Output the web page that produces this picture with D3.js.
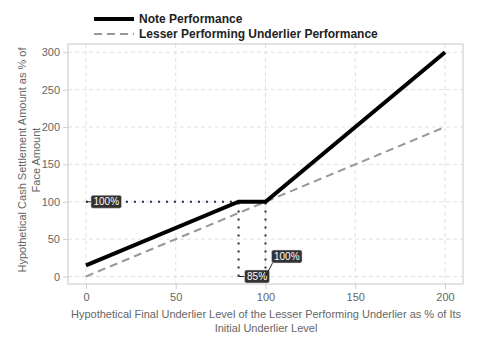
<!DOCTYPE html>
<html><head><meta charset="utf-8">
<script src="https://cdn.jsdelivr.net/npm/d3@7"></script>
<style>body{margin:0;background:#fff;}svg{display:block;font-family:"Liberation Sans",Arial,sans-serif;}</style>
</head><body><svg id="c" width="480" height="360"></svg>
<script>
const levels = [0, 85, 100, 200];
const noteValues = [15, 100, 100, 300];
const underlierLevels = [0, 200];
const underlierValues = [0, 200];
const xTicks = [0, 50, 100, 150, 200];
const yTicks = [0, 50, 100, 150, 200, 250, 300];
const seriesNames = ["Note Performance", "Lesser Performing Underlier Performance"];
const annotations = [
  {x: 0, y: 100, text: "100%", dx: 5, dy: 0},
  {x: 85, y: 0, text: "85%", dx: 6, dy: 0},
  {x: 100, y: 0, text: "100%", dx: 6, dy: -20}
];

const svg = d3.select("#c");
const L = 68, R = 463, T = 44, B = 284;
const x = d3.scaleLinear().domain([-10, 210]).range([L, R]);
const y = d3.scaleLinear().domain([-10, 311]).range([B, T]);

// grid
const g = svg.append("g");
g.selectAll(".gx").data(xTicks).enter().append("line")
  .attr("x1", d => x(d)).attr("x2", d => x(d)).attr("y1", T).attr("y2", B)
  .attr("stroke", "#e0e0e0").attr("stroke-dasharray", "4,3");
g.selectAll(".gy").data(yTicks).enter().append("line")
  .attr("y1", d => y(d)).attr("y2", d => y(d)).attr("x1", L).attr("x2", R)
  .attr("stroke", "#e0e0e0").attr("stroke-dasharray", "4,3");
svg.append("rect").attr("x", L).attr("y", T).attr("width", R - L).attr("height", B - T)
  .attr("fill", "none").attr("stroke", "#c8c8c8");

// axes
const xa = svg.append("g").attr("transform", `translate(0,${B})`)
  .call(d3.axisBottom(x).tickValues(xTicks).tickSize(5).tickPadding(4));
const ya = svg.append("g").attr("transform", `translate(${L},0)`)
  .call(d3.axisLeft(y).tickValues(yTicks).tickSize(5).tickPadding(3));
[xa, ya].forEach(a => {
  a.select(".domain").remove();
  a.selectAll("line").attr("stroke", "#c8d0dc");
  a.selectAll("text").attr("fill", "#666").style("font-size", "11px").style("font-family", "'Liberation Sans',Arial,sans-serif");
});

// axis titles
const xt = svg.append("text").attr("text-anchor", "middle").attr("fill", "#666").style("font-size", "11px");
xt.append("tspan").attr("x", 266).attr("y", 318).text("Hypothetical Final Underlier Level of the Lesser Performing Underlier as % of Its");
xt.append("tspan").attr("x", 266).attr("y", 332).text("Initial Underlier Level");
const yt = svg.append("text").attr("text-anchor", "middle").attr("fill", "#666").style("font-size", "11px")
  .attr("transform", "translate(26,160) rotate(-90)");
yt.append("tspan").attr("x", 0).attr("y", 0).text("Hypothetical Cash Settlement Amount as % of");
yt.append("tspan").attr("x", 0).attr("y", 14).text("Face Amount");

// dotted reference lines
const dotColor = "#1f2d4d";
const dots = [
  [[0, 100], [85, 100]],
  [[85, 0], [85, 100]],
  [[100, 0], [100, 100]]
];
const line = d3.line().x(d => x(d[0])).y(d => y(d[1]));
dots.forEach(seg => {
  svg.append("path").attr("d", line(seg)).attr("fill", "none")
    .attr("stroke", dotColor).attr("stroke-width", 2).attr("stroke-dasharray", "2,6");
});

// underlier
svg.append("path").attr("d", line(underlierLevels.map((v, i) => [v, underlierValues[i]])))
  .attr("fill", "none").attr("stroke", "#999").attr("stroke-width", 2).attr("stroke-dasharray", "8,5");
// note
svg.append("path").attr("d", line(levels.map((v, i) => [v, noteValues[i]])))
  .attr("fill", "none").attr("stroke", "#000").attr("stroke-width", 4);

// annotations
annotations.forEach(a => {
  const px = x(a.x), py = y(a.y);
  const ag = svg.append("g");
  const lineG = ag.append("g"), rect = ag.append("rect");
  const t = ag.append("text").attr("fill", "#fff").style("font-size", "10px").text(a.text);
  const w = t.node().getComputedTextLength() + 5, h = 13;
  const bx = px + a.dx, by = py + a.dy - h / 2;
  lineG.append("line").attr("x1", px).attr("y1", py)
    .attr("x2", a.dy ? bx + 1 : bx).attr("y2", a.dy ? by + h : py).attr("stroke", "#222").attr("stroke-width", 1);
  rect.attr("x", bx).attr("y", by).attr("width", w).attr("height", h)
    .attr("rx", 2).attr("fill", "#333").attr("stroke", "#ddd").attr("stroke-width", 0.5);
  t.attr("x", bx + 2.5).attr("y", by + 10);
});

// legend
const leg = svg.append("g");
leg.append("line").attr("x1", 94).attr("x2", 134).attr("y1", 19).attr("y2", 19).attr("stroke", "#000").attr("stroke-width", 4);
leg.append("line").attr("x1", 94).attr("x2", 134).attr("y1", 34).attr("y2", 34).attr("stroke", "#999").attr("stroke-width", 2).attr("stroke-dasharray", "8,5");
leg.selectAll("text").data(seriesNames).enter().append("text")
  .attr("x", 139).attr("y", (d, i) => 23 + i * 15).attr("fill", "#222")
  .style("font-size", "12px").style("font-weight", "bold").text(d => d);
</script></body></html>
